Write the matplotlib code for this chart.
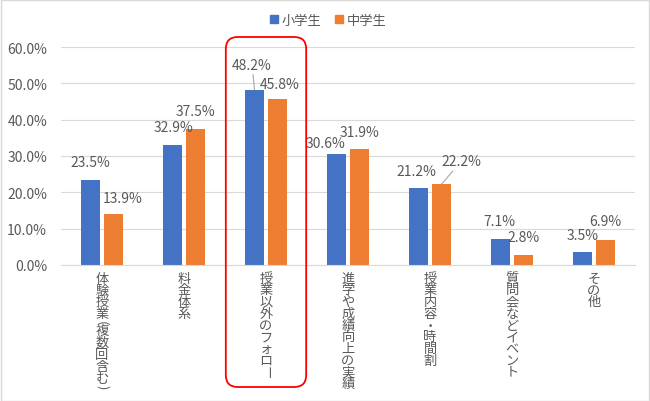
import numpy as np
import matplotlib
matplotlib.use("Agg")
import matplotlib.pyplot as plt
from matplotlib.patches import FancyBboxPatch, Rectangle, Patch
from matplotlib.transforms import IdentityTransform

plt.rcParams['font.family'] = ['Noto Sans CJK JP', 'DejaVu Sans']

categories = ['体験授業(複数回含む)', '料金体系', '授業以外のフォロー', '進学や成績向上の実績',
              '授業内容・時間割', '質問会などイベント', 'その他']
elementary = [23.5, 32.9, 48.2, 30.6, 21.2, 7.1, 3.5]
junior = [13.9, 37.5, 45.8, 31.9, 22.2, 2.8, 6.9]
series_names = ['小学生', '中学生']
highlight = 2

# label offsets in pixels (dx, dy) from bar top, and which ones get a leader line
off_e = [(-0.5, 17.5), (0.5, 18.5), (-2.5, 25), (-11.5, 10.6), (-2, 17), (-1, 18), (0, 17.5)]
off_j = [(9, 16.5), (0, 17.5), (2.5, 15), (0, 17), (19.5, 23), (0, 17.5), (0, 18.5)]
lead_e = [False, False, True, False, False, False, False]
lead_j = [False, False, False, False, True, False, False]

blue = '#4472C4'
orange = '#ED7D31'
txt = '#595959'
grid = '#D9D9D9'

fig = plt.figure(figsize=(6.5, 4.02), dpi=100)
ax = fig.add_axes([61 / 650, 1 - 266 / 402, 574 / 650, 218 / 402])

x = np.arange(len(categories))
w = 0.225
d = 0.14
ax.bar(x - d, elementary, w, color=blue, zorder=2)
ax.bar(x + d, junior, w, color=orange, zorder=2)

ax.set_xlim(-0.5, len(categories) - 0.5)
ax.set_ylim(0, 60)
ax.set_yticks(np.arange(0, 61, 10))
ax.set_yticklabels([f'{v:.1f}%' for v in np.arange(0, 61, 10)])
ax.tick_params(axis='y', length=0, pad=10, labelsize=10, labelcolor=txt)
ax.set_xticks(x)
ax.set_xticklabels([])
ax.tick_params(axis='x', length=0)
ax.grid(axis='y', color=grid, lw=0.8, zorder=0)
ax.set_axisbelow(True)
for s in ['top', 'right', 'left']:
    ax.spines[s].set_visible(False)
ax.spines['bottom'].set_color(grid)
ax.spines['bottom'].set_linewidth(0.8)


def label(xv, val, off, lead):
    ap = None
    if lead:
        ap = dict(arrowstyle='-', color='#A6A6A6', lw=0.8, shrinkA=0, shrinkB=0)
    ax.annotate(f'{val:.1f}%', xy=(xv, val), xytext=off, textcoords='offset pixels',
                ha='center', va='center', fontsize=10, color=txt, arrowprops=ap)


for i in range(len(categories)):
    label(x[i] - d, elementary[i], off_e[i], lead_e[i])
    label(x[i] + d, junior[i], off_j[i], lead_j[i])

# vertical category labels, one character at a time
step = 11.7
for i, cat in enumerate(categories):
    ypos = 13.3
    for ch in cat:
        half = ch in '()'
        if half:
            ypos -= step / 4
        rot = -90 if ch in '()ー' else 0
        ax.annotate(ch, xy=(x[i], 0), xycoords=ax.get_xaxis_transform(),
                    xytext=(0, -ypos), textcoords='offset pixels',
                    ha='center', va='center', fontsize=9.5, color=txt, rotation=rot)
        ypos += step * 0.75 if half else step

handles = [Patch(color=blue), Patch(color=orange)]
fig.legend(handles, series_names, loc='center', bbox_to_anchor=(328 / 650, 1 - 21 / 402),
           ncol=2, frameon=False, fontsize=9.5, handlelength=0.6, handleheight=0.6,
           handletextpad=0.3, columnspacing=1.0, labelcolor=txt)

# red rounded box around the highlighted category
fig.canvas.draw()
h = fig.get_figheight() * fig.dpi
x0, _ = ax.transData.transform((highlight - 0.49, 0))
x1, _ = ax.transData.transform((highlight + 0.49, 0))
box = FancyBboxPatch((x0, h - 388), x1 - x0, 350, boxstyle='round,pad=0,rounding_size=12',
                     transform=IdentityTransform(), fill=False, edgecolor='#FF0000', lw=1.3,
                     zorder=5)
fig.add_artist(box)

fig.add_artist(Rectangle((0.5 / 650, 0.5 / 402), 1 - 1.5 / 650, 1 - 1.5 / 402,
                         transform=fig.transFigure, fill=False, edgecolor=grid, lw=1))

fig.savefig('out.png', dpi=100)
